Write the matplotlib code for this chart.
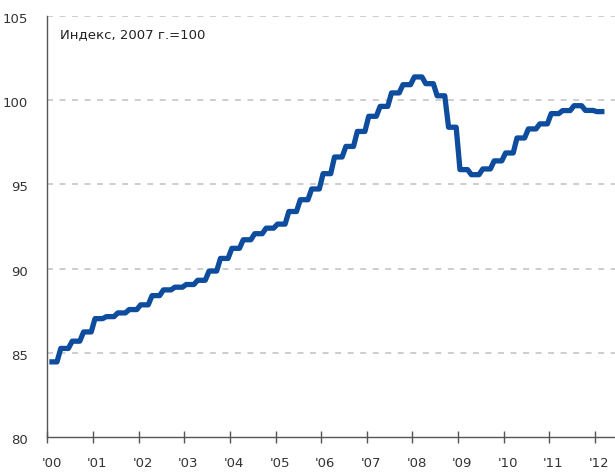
import matplotlib
matplotlib.use("Agg")
import matplotlib.pyplot as plt
import matplotlib.transforms as mtransforms
import numpy as np

# quarterly index values, 2007 = 100 (2000Q1 .. 2012Q1)
quarter_values = [
    84.45, 85.25, 85.68, 86.23,   # 2000
    87.02, 87.14, 87.36, 87.56,   # 2001
    87.84, 88.39, 88.73, 88.89,   # 2002
    89.05, 89.30, 89.85, 90.60,   # 2003
    91.20, 91.71, 92.07, 92.40,   # 2004
    92.64, 93.39, 94.09, 94.73,   # 2005
    95.64, 96.63, 97.26, 98.15,   # 2006
    99.05, 99.64, 100.44, 100.93, # 2007
    101.39, 100.99, 100.27, 98.40, # 2008
    95.88, 95.58, 95.92, 96.40,   # 2009
    96.87, 97.76, 98.30, 98.60,   # 2010
    99.21, 99.39, 99.68, 99.40,   # 2011
    99.33,                        # 2012
]
start_year = 2000
year_ticks = list(range(2000, 2013))
year_labels = ["'00", "'01", "'02", "'03", "'04", "'05", "'06",
               "'07", "'08", "'09", "'10", "'11", "'12"]
y_ticks = [80, 85, 90, 95, 100, 105]
note = "Индекс, 2007 г.=100"

# monthly series: each quarter's value held for its three months
monthly = np.repeat(quarter_values, 3)
months = start_year + (np.arange(len(monthly)) + 0.5) / 12.0

plt.rcParams["font.family"] = ["DejaVu Sans"]

fig = plt.figure(figsize=(6.15, 4.73), dpi=100)
ax = fig.add_axes([0.0772, 0.0767, 0.9228, 0.889])

for y in y_ticks[1:]:
    ax.axhline(y, color="#c0c0c0", lw=1.1, ls=(0, (3.9, 4.3)), zorder=1)

ax.plot(months, monthly, color="#0e4c9e", lw=3.8, solid_joinstyle="round",
        solid_capstyle="butt", zorder=3)

ax.set_xlim(2000.0, 2012.44)
ax.set_ylim(80, 105)
ax.set_xticks(year_ticks)
ax.set_xticklabels(year_labels)
ax.set_yticks(y_ticks)

for side in ("top", "right"):
    ax.spines[side].set_visible(False)
for side in ("left", "bottom"):
    ax.spines[side].set_color("#555555")
    ax.spines[side].set_linewidth(1.0)

ax.tick_params(axis="x", direction="inout", length=9, width=1.0,
               color="#555555", pad=10, labelsize=9.5, labelcolor="#333333")
ax.tick_params(axis="y", length=0, pad=14, labelsize=9.5, labelcolor="#333333")

offset = mtransforms.ScaledTranslation(4 / 100, 0, fig.dpi_scale_trans)
for lab in ax.get_xticklabels():
    lab.set_transform(lab.get_transform() + offset)
yoff = mtransforms.ScaledTranslation(0, -2 / 100, fig.dpi_scale_trans)
for lab in ax.get_yticklabels():
    lab.set_transform(lab.get_transform() + yoff)

ax.text(0.022, 0.947, note, transform=ax.transAxes, fontsize=9.5,
        color="#222222", ha="left", va="baseline")

fig.savefig("out.png", dpi=100)
